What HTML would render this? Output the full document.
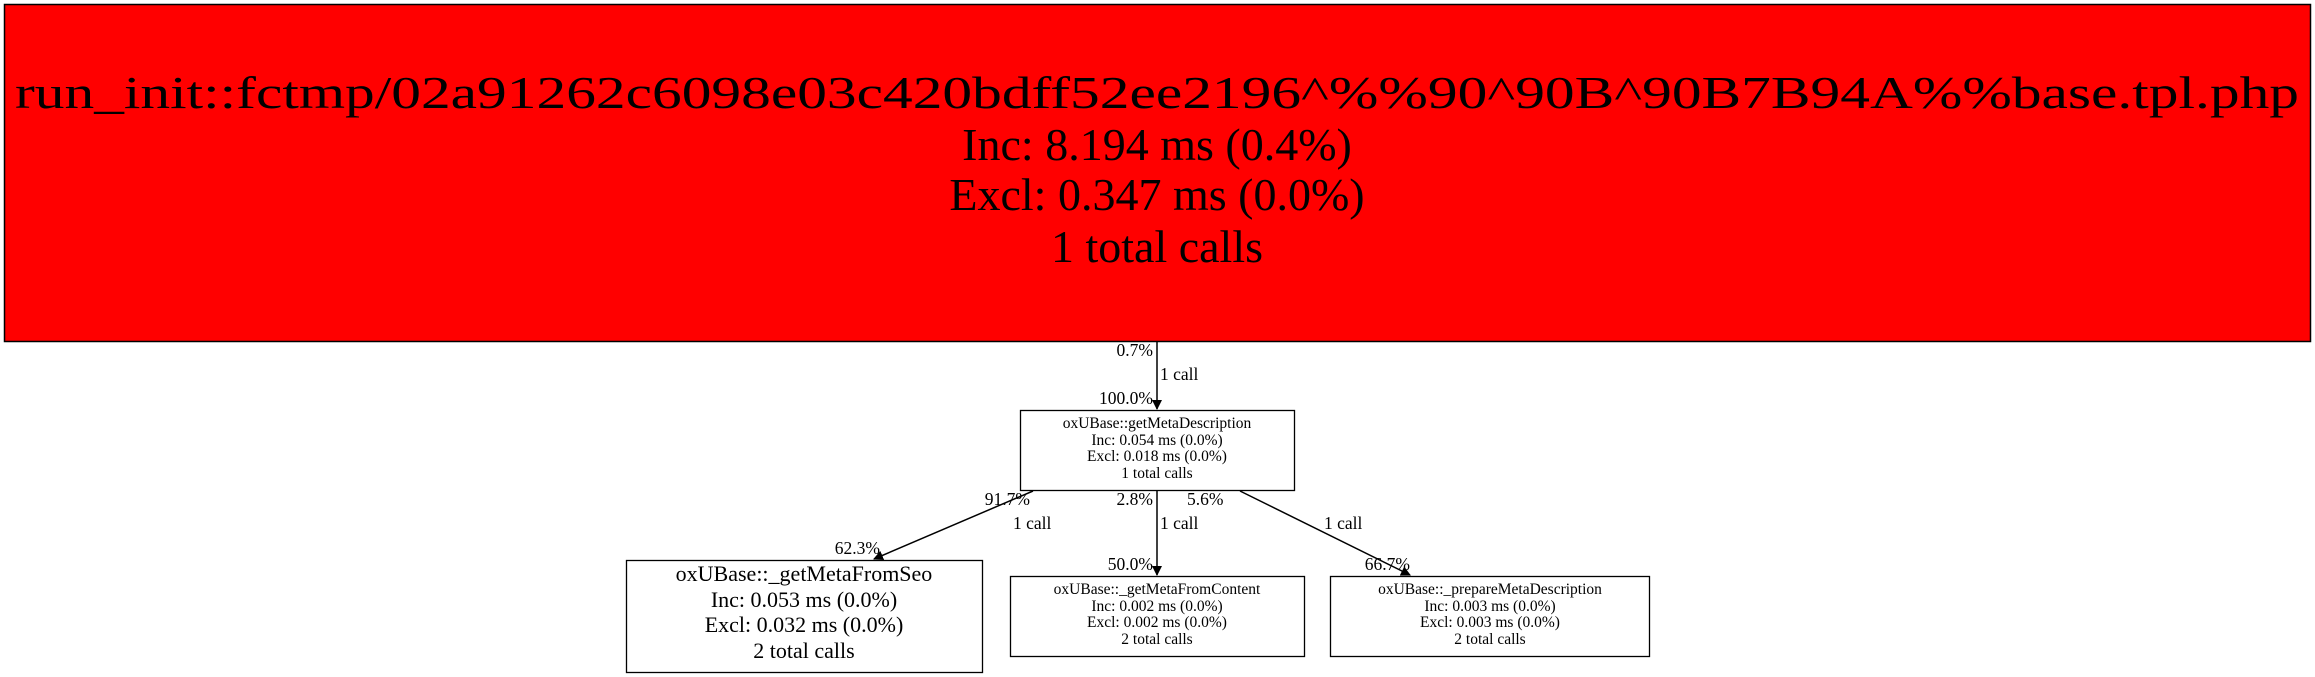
<!DOCTYPE html>
<html><head><meta charset="utf-8"><style>
html,body{margin:0;padding:0;background:#fff;width:2315px;height:677px;overflow:hidden}
text{font-family:"Liberation Serif",serif;fill:#000}
</style></head><body>
<svg width="2315" height="677" viewBox="0 0 2315 677" xmlns="http://www.w3.org/2000/svg">
<defs><marker id="a" markerWidth="10" markerHeight="10" refX="9" refY="5" orient="auto" markerUnits="userSpaceOnUse"><path d="M0,0 L10,5 L0,10 z" fill="#000"/></marker></defs>
<rect x="4.5" y="4.5" width="2306" height="337" fill="#ff0000" stroke="#000" stroke-width="1.5"/>
<g font-size="46" text-anchor="middle">
<text x="1157" y="108" textLength="2284" lengthAdjust="spacingAndGlyphs">run_init::fctmp/02a91262c6098e03c420bdff52ee2196^%%90^90B^90B7B94A%%base.tpl.php</text>
<text x="1157" y="160">Inc: 8.194 ms (0.4%)</text>
<text x="1157" y="210">Excl: 0.347 ms (0.0%)</text>
<text x="1157" y="262">1 total calls</text>
</g>
<rect x="1020.5" y="410.5" width="274" height="80" fill="#fff" stroke="#000" stroke-width="1.3"/>
<g font-size="15.5" text-anchor="middle">
<text x="1157" y="428">oxUBase::getMetaDescription</text>
<text x="1157" y="445">Inc: 0.054 ms (0.0%)</text>
<text x="1157" y="461">Excl: 0.018 ms (0.0%)</text>
<text x="1157" y="478">1 total calls</text>
</g>
<rect x="626.5" y="560.5" width="356" height="112" fill="#fff" stroke="#000" stroke-width="1.3"/>
<g font-size="22" text-anchor="middle">
<text x="804" y="581">oxUBase::_getMetaFromSeo</text>
<text x="804" y="607">Inc: 0.053 ms (0.0%)</text>
<text x="804" y="632">Excl: 0.032 ms (0.0%)</text>
<text x="804" y="658">2 total calls</text>
</g>
<rect x="1010.5" y="576.5" width="294" height="80" fill="#fff" stroke="#000" stroke-width="1.3"/>
<g font-size="15.5" text-anchor="middle">
<text x="1157" y="594">oxUBase::_getMetaFromContent</text>
<text x="1157" y="611">Inc: 0.002 ms (0.0%)</text>
<text x="1157" y="627">Excl: 0.002 ms (0.0%)</text>
<text x="1157" y="644">2 total calls</text>
</g>
<rect x="1330.5" y="576.5" width="319" height="80" fill="#fff" stroke="#000" stroke-width="1.3"/>
<g font-size="15.5" text-anchor="middle">
<text x="1490" y="594">oxUBase::_prepareMetaDescription</text>
<text x="1490" y="611">Inc: 0.003 ms (0.0%)</text>
<text x="1490" y="627">Excl: 0.003 ms (0.0%)</text>
<text x="1490" y="644">2 total calls</text>
</g>
<g stroke="#000" stroke-width="1.5" fill="none" marker-end="url(#a)">
<line x1="1157" y1="342" x2="1157" y2="409"/>
<line x1="1033" y1="491" x2="874" y2="559"/>
<line x1="1157" y1="491" x2="1157" y2="575"/>
<line x1="1240" y1="491" x2="1410" y2="575"/>
</g>
<g font-size="17.5">
<text x="1153" y="356" text-anchor="end">0.7%</text>
<text x="1160" y="380">1 call</text>
<text x="1153" y="404" text-anchor="end">100.0%</text>
<text x="1030" y="505" text-anchor="end">91.7%</text>
<text x="1013" y="529">1 call</text>
<text x="880" y="554" text-anchor="end">62.3%</text>
<text x="1153" y="505" text-anchor="end">2.8%</text>
<text x="1160" y="529">1 call</text>
<text x="1153" y="570" text-anchor="end">50.0%</text>
<text x="1187" y="505">5.6%</text>
<text x="1324" y="529">1 call</text>
<text x="1410" y="570" text-anchor="end">66.7%</text>
</g>
</svg>
</body></html>
